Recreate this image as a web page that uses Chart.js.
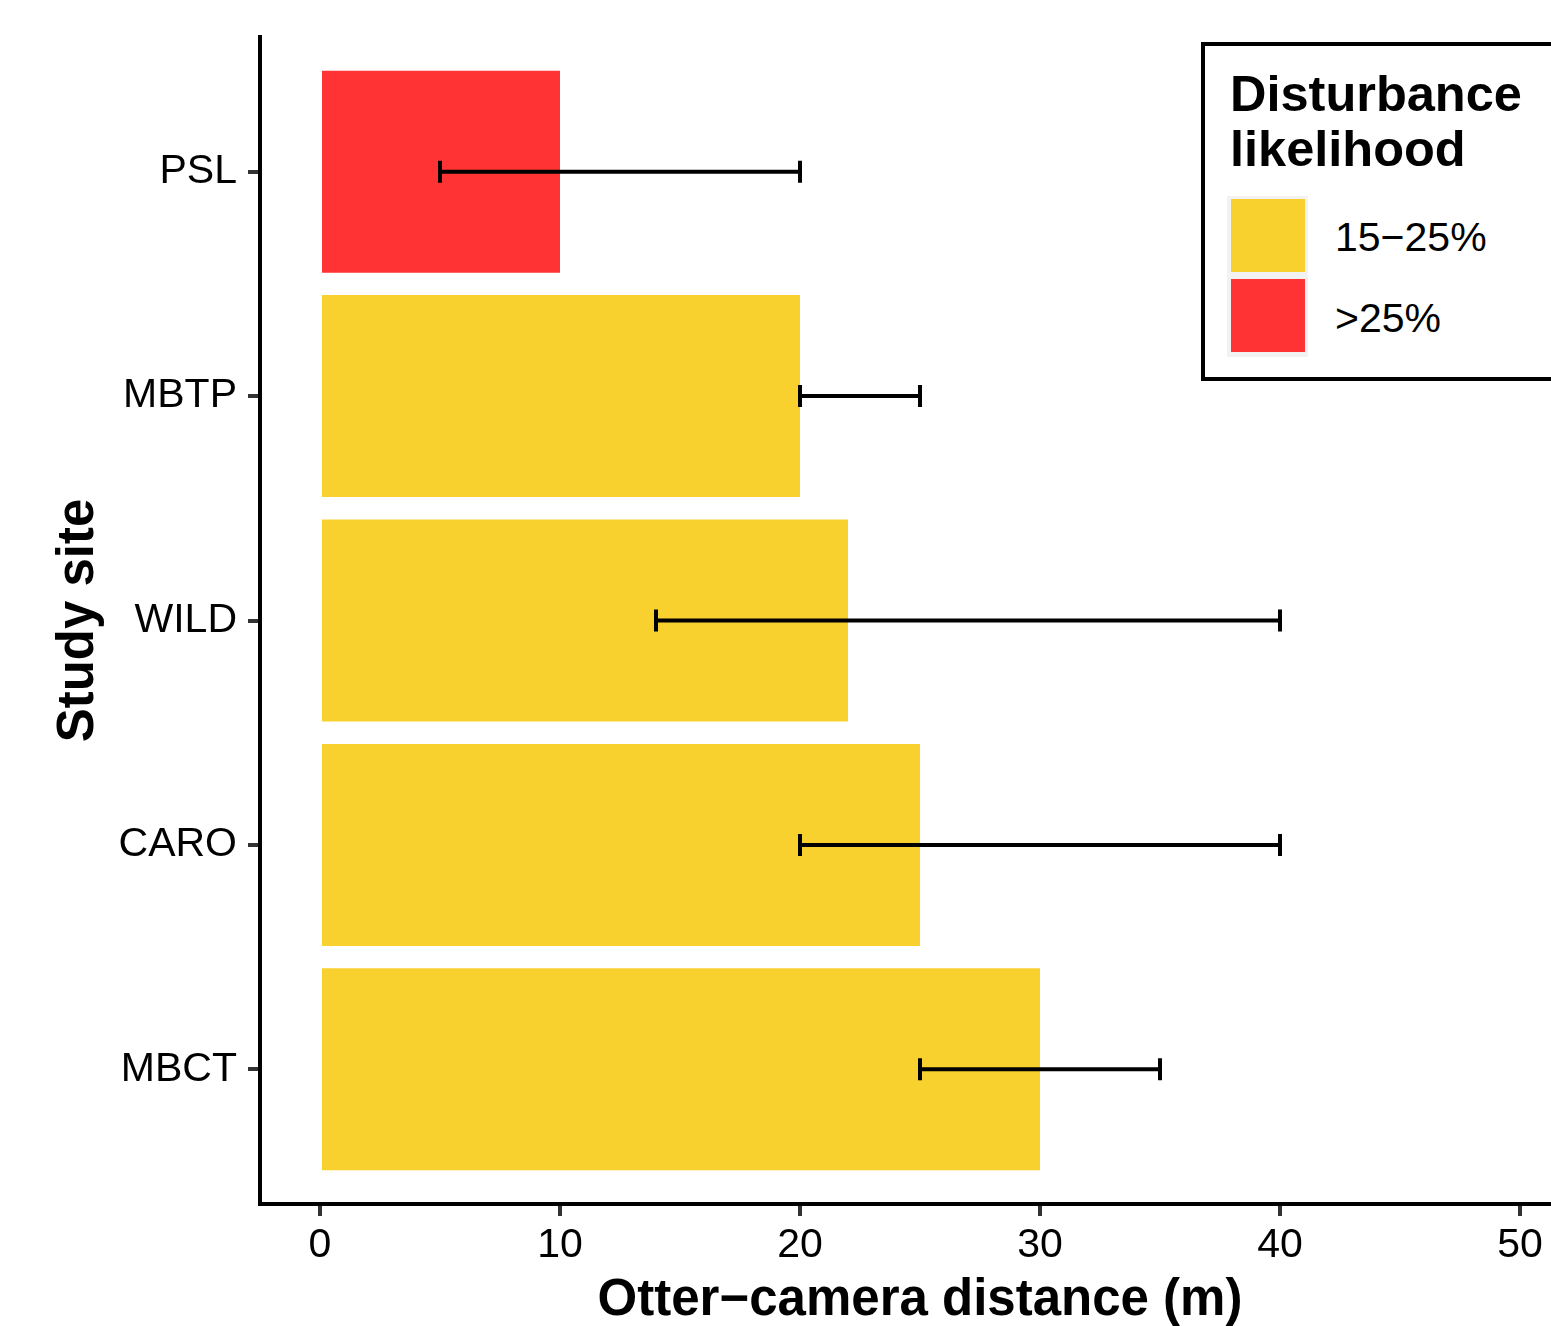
<!DOCTYPE html>
<html>
<head>
<meta charset="utf-8">
<title>Otter-camera distance by study site</title>
<script src="https://cdn.jsdelivr.net/npm/chart.js@4/dist/chart.umd.min.js"></script>
<style>
  html, body { margin: 0; padding: 0; background: #fff; overflow: hidden; }
  #wrap { position: absolute; left: 0; top: 0; width: 1580px; height: 1326px; }
  #legend {
    position: absolute; left: 1201px; top: 42px; width: 420px; height: 339px;
    box-sizing: border-box; border: 4px solid #000; background: #fff;
    font-family: "Liberation Sans", Arial, sans-serif; color: #000;
  }
  #legend .title { position: absolute; left: 25px; top: 20px; font-size: 50.5px; line-height: 55px; font-weight: bold; }
  #legend .keys { position: absolute; left: 22px; top: 150px; width: 81px; height: 161px; background: #f2f2f2; }
  #legend .key { position: absolute; left: 4px; width: 74px; height: 73px; }
  #legend .lab { position: absolute; left: 130px; font-size: 41px; line-height: 40px; white-space: nowrap; }
</style>
</head>
<body>
<div id="wrap"><canvas id="chart" width="1580" height="1326"></canvas></div>
<div id="legend"></div>
<script>
// data
var sites = ["PSL", "MBTP", "WILD", "CARO", "MBCT"];
var distance = [10, 20, 22, 25, 30];
var errLow = [5, 20, 14, 20, 25];
var errHigh = [20, 25, 40, 40, 35];
var likelihood = [">25%", "15\u221225%", "15\u221225%", "15\u221225%", "15\u221225%"];
var xTicks = [0, 10, 20, 30, 40, 50];
var groupNames = ["15\u221225%", ">25%"];
var groupColors = ["#F9D12E", "#FF3333"];

function colorFor(g) {
    return groupColors[groupNames.indexOf(g)];
}

// legend (html)
function buildLegend() {
    var lg = document.getElementById("legend");
    var t = document.createElement("div");
    t.className = "title";
    t.innerHTML = "Disturbance<br>likelihood";
    lg.appendChild(t);
    var keys = document.createElement("div");
    keys.className = "keys";
    lg.appendChild(keys);
    for (var i = 0; i < groupNames.length; i++) {
        var k = document.createElement("div");
        k.className = "key";
        k.style.top = (3 + i * 80) + "px";
        k.style.background = groupColors[i];
        keys.appendChild(k);
        var l = document.createElement("div");
        l.className = "lab";
        l.style.top = (171 + i * 81) + "px";
        l.textContent = groupNames[i];
        lg.appendChild(l);
    }
}
buildLegend();

// error bars drawn through the chart scales
var errorBars = {
    id: "errorBars",
    afterDatasetsDraw: function(chart) {
        var ctx = chart.ctx;
        var xs = chart.scales.x;
        var ys = chart.scales.y;
        ctx.save();
        ctx.strokeStyle = "#000";
        ctx.lineWidth = 4;
        for (var i = 0; i < sites.length; i++) {
            var x1 = xs.getPixelForValue(errLow[i]);
            var x2 = xs.getPixelForValue(errHigh[i]);
            var y = ys.getPixelForValue(i);
            ctx.beginPath();
            ctx.moveTo(x1, y); ctx.lineTo(x2, y);
            ctx.moveTo(x1, y - 11); ctx.lineTo(x1, y + 11);
            ctx.moveTo(x2, y - 11); ctx.lineTo(x2, y + 11);
            ctx.stroke();
        }
        ctx.restore();
    }
};

Chart.defaults.font.family = '"Liberation Sans", Arial, sans-serif';
Chart.defaults.color = "#000";

var ctx = document.getElementById("chart").getContext("2d");
new Chart(ctx, {
    type: "bar",
    data: {
        datasets: [{
            data: sites.map(function(s, i) { return { x: distance[i], y: i }; }),
            backgroundColor: likelihood.map(colorFor),
            borderWidth: 0,
            barPercentage: 0.9,
            categoryPercentage: 1.0
        }]
    },
    options: {
        indexAxis: "y",
        responsive: false,
        devicePixelRatio: 1,
        animation: false,
        layout: { padding: { top: 37, right: 0, bottom: 0, left: 0 } },
        plugins: { legend: { display: false }, tooltip: { enabled: false } },
        scales: {
            x: {
                type: "linear",
                min: -2.5,
                max: 52.5,
                afterBuildTicks: function(s) {
                    s.ticks = xTicks.map(function(v) { return { value: v }; });
                },
                afterFit: function(s) { s.height = 122; },
                ticks: { font: { size: 41 }, color: "#000", padding: 5, maxRotation: 0 },
                grid: { drawOnChartArea: false, drawTicks: true, tickLength: 12, color: "#333", lineWidth: 4 },
                border: { display: true, color: "#000", width: 4 },
                title: {
                    display: true,
                    text: "Otter\u2212camera distance (m)",
                    font: { size: 51, weight: "bold", lineHeight: 1 },
                    color: "#000",
                    padding: { top: 0, bottom: 0 }
                }
            },
            y: {
                type: "linear",
                reverse: true,
                offset: false,
                min: -0.6,
                max: 4.6,
                afterBuildTicks: function(s) {
                    s.ticks = sites.map(function(_, i) { return { value: i }; });
                },
                afterFit: function(s) { s.width = 260; },
                ticks: {
                    font: { size: 41 },
                    color: "#000",
                    padding: 11,
                    autoSkip: false,
                    callback: function(v) { return sites[v]; }
                },
                grid: { offset: false, drawOnChartArea: false, drawTicks: true, tickLength: 12, color: "#333", lineWidth: 4 },
                border: { display: true, color: "#000", width: 4 },
                title: {
                    display: true,
                    text: "Study site",
                    font: { size: 51, weight: "bold", lineHeight: 1 },
                    color: "#000",
                    padding: { top: 53, bottom: 0 }
                }
            }
        }
    },
    plugins: [errorBars]
});
</script>
</body>
</html>
